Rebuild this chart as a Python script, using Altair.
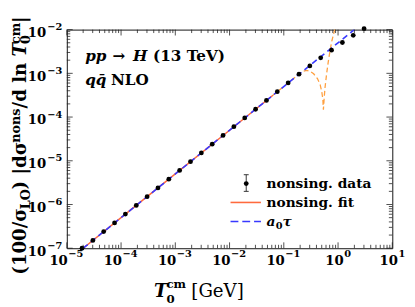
import altair as alt
import pandas as pd

# ---------------- data ----------------
tau = [1.905e-5, 3.020e-5, 4.786e-5, 7.586e-5, 1.202e-4, 1.905e-4, 3.020e-4,
       4.786e-4, 7.586e-4, 1.202e-3, 1.905e-3, 3.020e-3, 4.786e-3, 7.586e-3,
       1.202e-2, 1.905e-2, 3.020e-2, 4.786e-2, 7.586e-2, 0.1202, 0.1905,
       0.3020, 0.4786, 0.7586, 1.202, 1.905, 3.020]
nons = [1.00e-7, 1.51e-7, 2.40e-7, 3.80e-7, 6.03e-7, 9.55e-7, 1.51e-6,
        2.40e-6, 3.80e-6, 6.03e-6, 9.55e-6, 1.51e-5, 2.40e-5, 3.80e-5,
        6.03e-5, 9.55e-5, 1.51e-4, 2.40e-4, 3.80e-4, 6.03e-4, 9.55e-4,
        1.48e-3, 2.26e-3, 3.39e-3, 5.07e-3, 7.41e-3, 1.05e-2]

fit_tau = [2.0e-5, 1.0e-4, 1.0e-3, 1.0e-2, 0.0631]
fit_val = [1.0e-7, 5.0e-7, 5.0e-6, 5.0e-5, 3.16e-4]

ext_tau = [0.0631, 0.126, 0.219, 0.263, 0.309, 0.355, 0.417, 0.468, 0.501,
           0.525, 0.537, 0.556, 0.575, 0.617, 0.661, 0.708, 0.759, 0.813,
           0.871, 0.933]
ext_val = [3.16e-4, 6.31e-4, 1.10e-3, 1.17e-3, 1.10e-3, 9.77e-4, 7.59e-4,
           5.50e-4, 3.80e-4, 2.51e-4, 1.48e-4, 2.82e-4, 4.68e-4, 1.00e-3,
           1.86e-3, 3.16e-3, 5.13e-3, 7.24e-3, 1.00e-2, 1.35e-2]

a0_tau = [2.0e-5, 2.0]
a0_val = [1.0e-7, 1.0e-2]

x_ticks = [1e-5, 1e-4, 1e-3, 1e-2, 1e-1, 1.0, 10.0]
x_exps = ["−5", "−4", "−3", "−2", "−1", "0", "1"]
y_ticks = [1e-7, 1e-6, 1e-5, 1e-4, 1e-3, 1e-2]
y_exps = ["−7", "−6", "−5", "−4", "−3", "−2"]

legend_labels = ["nonsing. data", "nonsing. fit", "a₀τ"]

# ---------------- layout ----------------
W, H = 332, 223
FONT = "DejaVu Serif"
ORANGE = "#ff6a3d"
LIGHT_ORANGE = "#ffa040"
BLUE = "#3838ff"

xs = alt.Scale(type="log", domain=[1e-5, 10], nice=False)
ys = alt.Scale(type="log", domain=[1e-7, 1e-2], nice=False)


def X(f="t"):
    return alt.X(f"{f}:Q", scale=xs, axis=None)


def Y(f="v"):
    return alt.Y(f"{f}:Q", scale=ys, axis=None)


layers = []

# curves
layers.append(alt.Chart(pd.DataFrame({"t": fit_tau, "v": fit_val}))
              .mark_line(color=ORANGE, strokeWidth=1.5, clip=True)
              .encode(x=X(), y=Y()))
layers.append(alt.Chart(pd.DataFrame({"t": ext_tau, "v": ext_val}))
              .mark_line(color=LIGHT_ORANGE, strokeWidth=1.3, strokeDash=[5, 3], clip=True)
              .encode(x=X(), y=Y()))
layers.append(alt.Chart(pd.DataFrame({"t": a0_tau, "v": a0_val}))
              .mark_line(color=BLUE, strokeWidth=1.6, strokeDash=[6, 4], clip=True)
              .encode(x=X(), y=Y()))
layers.append(alt.Chart(pd.DataFrame({"t": tau, "v": nons}))
              .mark_circle(color="black", size=24, opacity=1)
              .encode(x=X(), y=Y()))

# ticks (inward, all four sides)
x_minor = [m * d for d in x_ticks[:-1] for m in range(2, 10)]
y_minor = [m * d for d in y_ticks[:-1] for m in range(2, 10)]
for vals, ln in ((x_ticks, 6), (x_minor, 3.5)):
    df = pd.DataFrame({"t": vals})
    layers.append(alt.Chart(df).mark_rule(color="#222", strokeWidth=0.8)
                  .encode(x=X(), y=alt.value(H), y2=alt.value(H - ln)))
    layers.append(alt.Chart(df).mark_rule(color="#222", strokeWidth=0.8)
                  .encode(x=X(), y=alt.value(0), y2=alt.value(ln)))
for vals, ln in ((y_ticks, 6), (y_minor, 3.5)):
    df = pd.DataFrame({"v": vals})
    layers.append(alt.Chart(df).mark_rule(color="#222", strokeWidth=0.8)
                  .encode(y=Y(), x=alt.value(0), x2=alt.value(ln)))
    layers.append(alt.Chart(df).mark_rule(color="#222", strokeWidth=0.8)
                  .encode(y=Y(), x=alt.value(W), x2=alt.value(W - ln)))

# tick labels: "10" + superscript exponent
xl = pd.DataFrame({"t": x_ticks, "e": x_exps})
for cond, dx10, dxe in (("datum.t < 1", 1, 1.5), ("datum.t >= 1", 5.8, 6.3)):
    layers.append(alt.Chart(xl).transform_filter(cond)
                  .mark_text(align="right", baseline="alphabetic", font=FONT, fontWeight="bold",
                             fontSize=13.5, dx=dx10, color="black")
                  .encode(x=X(), y=alt.value(H + 17), text=alt.value("10")))
    layers.append(alt.Chart(xl).transform_filter(cond)
                  .mark_text(align="left", baseline="alphabetic", font=FONT, fontWeight="bold",
                             fontSize=10, dx=dxe, color="black")
                  .encode(x=X(), y=alt.value(H + 9), text="e:N"))
yl = pd.DataFrame({"v": y_ticks, "e": y_exps})
layers.append(alt.Chart(yl)
              .mark_text(align="right", baseline="alphabetic", font=FONT, fontWeight="bold",
                         fontSize=13.5, dy=7.5, color="black")
              .encode(y=Y(), x=alt.value(-21), text=alt.value("10")))
layers.append(alt.Chart(yl)
              .mark_text(align="left", baseline="alphabetic", font=FONT, fontWeight="bold",
                         fontSize=10, dy=0.5, color="black")
              .encode(y=Y(), x=alt.value(-20), text="e:N"))


def txt(s, x, y, size, weight="bold", style="normal", angle=0, align="left", color="black"):
    return (alt.Chart(pd.DataFrame({"s": [s]}))
            .mark_text(align=align, baseline="alphabetic", font=FONT, fontSize=size,
                       fontWeight=weight, fontStyle=style, angle=angle, color=color)
            .encode(x=alt.value(x), y=alt.value(y), text="s:N"))


# y-axis title, rotated, assembled from pieces (bottom to top)
BX = -42
M, S = 18.5, 13
for s, y, size, dxo, style in [
    ("(100/σ", 250, M, 0, "normal"),
    ("LO", 183.3, S, 4, "normal"),
    (") |dσ", 163.1, M, 0, "normal"),
    ("nons", 115.3, S, -5.5, "normal"),
    ("/d ln", 80.4, M, 0, "normal"),
    ("T", 27.4, M, 0, "italic"),
    ("0", 14.8, S, 4, "normal"),
    ("cm", 14.8, S, -5.5, "normal"),
    ("|", -6.7, M, 0, "normal"),
]:
    layers.append(txt(s, BX + dxo, y, size, style=style, angle=270))

# x-axis title
layers.append(txt("T", 89, 273, M, style="italic"))
layers.append(txt("0", 101.6, 279, 12))
layers.append(txt("cm", 101.6, 264, 12))
layers.append(txt("[GeV]", 127, 273, M, weight="normal"))

# annotation
layers.append(txt("pp", 18.7, 32, 15.5, style="italic"))
layers.append(txt("→", 46.5, 32, 15.5))
layers.append(txt("H", 67.5, 32, 15.5, style="italic"))
layers.append(txt("(13 TeV)", 88, 32, 15.5))
layers.append(txt("qq̄", 18.7, 57, 15.5, style="italic"))
layers.append(txt("NLO", 45, 57, 15.5))

# legend
ex, r1, r2, r3 = 183, 157, 176.3, 195.7
one = pd.DataFrame({"a": [0]})
layers.append(alt.Chart(one).mark_rule(color="#333", strokeWidth=1)
              .encode(x=alt.value(ex), y=alt.value(r1 - 9), y2=alt.value(r1 + 8)))
layers.append(alt.Chart(one).mark_rule(color="#333", strokeWidth=1)
              .encode(x=alt.value(ex - 2.5), x2=alt.value(ex + 2.5), y=alt.value(r1 - 9)))
layers.append(alt.Chart(one).mark_rule(color="#333", strokeWidth=1)
              .encode(x=alt.value(ex - 2.5), x2=alt.value(ex + 2.5), y=alt.value(r1 + 8)))
layers.append(alt.Chart(one).mark_circle(color="black", size=24, opacity=1)
              .encode(x=alt.value(ex), y=alt.value(r1)))
layers.append(alt.Chart(one).mark_rule(color=ORANGE, strokeWidth=1.6)
              .encode(x=alt.value(167), x2=alt.value(198), y=alt.value(r2)))
layers.append(alt.Chart(one).mark_rule(color=BLUE, strokeWidth=1.6, strokeDash=[8, 4])
              .encode(x=alt.value(167), x2=alt.value(198), y=alt.value(r3)))
layers.append(txt(legend_labels[0], 203.7, r1 + 5, 14))
layers.append(txt(legend_labels[1], 203.7, r2 + 5, 14))
layers.append(txt("a", 203.7, r3 + 5, 14, style="italic"))
layers.append(txt("0", 213, r3 + 8, 10))
layers.append(txt("τ", 220, r3 + 5, 14, style="italic"))

chart = (alt.layer(*layers)
         .properties(width=W, height=H,
                     autosize=alt.AutoSizeParams(type="none"),
                     padding={"left": 60, "top": 19, "right": 15, "bottom": 62})
         .configure_view(stroke="#111", strokeWidth=1))

chart.save("out.html", embed_options={"renderer": "svg", "actions": False})
